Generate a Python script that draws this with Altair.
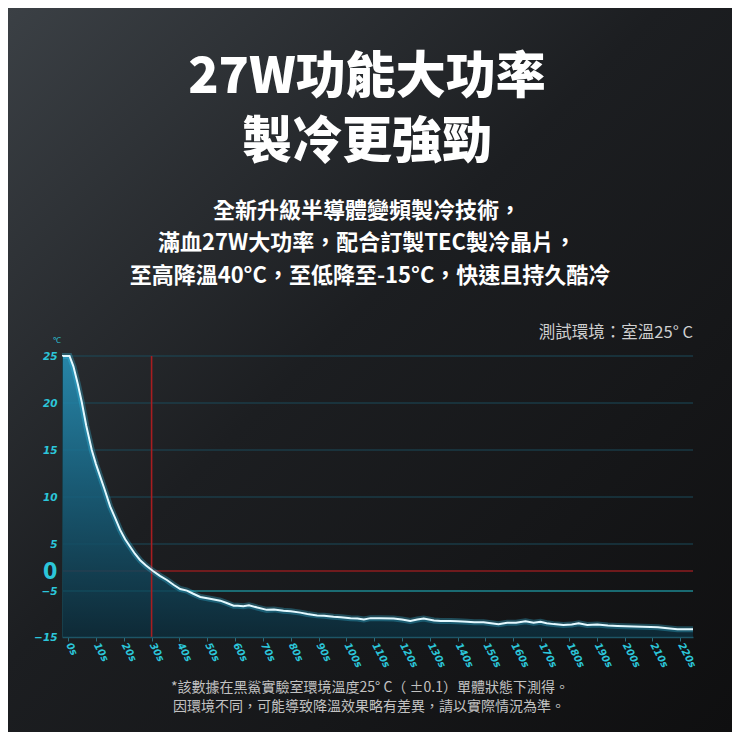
import altair as alt
import pandas as pd

# curve (seconds, °C)
tiempo = [-2.2, 0.5, 1.9, 3.5, 4.9, 6.5, 8.5, 10, 11.5, 13, 15.1, 17, 18.7, 20.5, 22.3, 24,
          25.9, 28, 30.5, 33, 35.5, 38, 40.3, 42.7, 45, 47.5, 51, 54.7, 57, 59.5, 61, 63,
          65, 68, 71.4, 74, 77.4, 80, 83.5, 86, 89.5, 92, 95.4, 98, 101.5, 104, 106.3,
          108.7, 112, 117, 120, 123, 125.5, 127.8, 131.5, 134, 137.4, 140, 143.4, 146,
          149.3, 152, 154.7, 157.8, 161, 164.4, 167.3, 169.8, 172, 174.5, 178, 181, 183.5,
          186.6, 190.2, 194, 197.4, 203.3, 209.4, 212, 215.4, 219, 224.6]
temperatura = [25, 25, 23.9, 22.0, 20.1, 17.6, 15.0, 13.5, 12.2, 10.9, 9.0, 7.7, 6.5, 5.5,
               4.5, 3.2, 2.0, 1.0, 0, -1.2, -2.25, -3.5, -4.5, -4.9, -5.6, -6.3, -6.7, -7.1,
               -7.6, -8.2, -8.2, -8.3, -8.1, -8.6, -9.1, -9.0, -9.3, -9.4, -9.7, -10.0,
               -10.3, -10.4, -10.6, -10.7, -10.9, -11.0, -11.2, -10.9, -10.9, -11.0, -11.2,
               -11.5, -11.2, -11.0, -11.4, -11.5, -11.5, -11.6, -11.7, -11.8, -11.8, -12.0,
               -12.2, -11.9, -11.9, -11.6, -11.9, -11.7, -12.0, -12.2, -12.4, -12.3, -12.0,
               -12.4, -12.3, -12.5, -12.6, -12.7, -12.8, -12.9, -13.1, -13.3, -13.3]

ticks_x = list(range(0, 221, 10))
ticks_y = [25, 20, 15, 10, 5, 0, -5, -15]
grade_escura = [25, 20, 15, 10, 5]
linha_zero = [0]
linha_menos5 = [-5]
marca_tempo = [30]

titulo = ["27W功能大功率", "製冷更強勁"]
subtitulo = ["全新升級半導體變頻製冷技術，",
             "滿血27W大功率，配合訂製TEC製冷晶片，",
             "至高降溫40°C，至低降至-15°C，快速且持久酷冷"]
ambiente = "測試環境：室溫25°  C"
rodape = ["*該數據在黑鯊實驗室環境溫度25°  C（ ±0.1）單體狀態下測得。",
          "因環境不同，可能導致降溫效果略有差異，請以實際情況為準。"]

CIANO = "#2cc6da"
FONTE = "Noto Sans CJK TC"
W, H = 631, 281

dados = pd.DataFrame({"t": tiempo, "temp": temperatura})

escala_x = alt.Scale(domain=[-2.2, 224.6], nice=False, zero=False)
escala_y = alt.Scale(domain=[-15, -5, 0, 5, 25], range=[281, 235, 215, 188, 0])

eixo_x = alt.Axis(values=ticks_x, labelExpr="datum.value + 's'", labelAngle=62,
                  labelColor=CIANO, labelFontSize=10, labelFontStyle="italic",
                  labelFontWeight="bold", labelFont="DejaVu Sans",
                  tickColor="#2b6f7f", tickSize=4, domainColor="#1d5566",
                  domainWidth=1.5, grid=False, title=None, labelPadding=2, zindex=1)
eixo_y = alt.Axis(values=ticks_y, labelColor=CIANO,
                  labelFontSize={"condition": {"test": "datum.value == 0", "value": 23},
                                 "value": 10.5},
                  labelFontStyle={"condition": {"test": "datum.value == 0", "value": "normal"},
                                  "value": "italic"},
                  labelFont={"condition": {"test": "datum.value == 0",
                                           "value": "DejaVu Sans Condensed"},
                             "value": "DejaVu Sans"},
                  labelFontWeight="bold", ticks=False, labelPadding=5,
                  domainColor="#173e4a", grid=False, zindex=1,
                  title="℃", titleAngle=0, titleFontSize=8, titleColor=CIANO,
                  titleX=-6, titleY=-12, titleFontWeight="normal")

# Fundo em degradê
fundo = alt.Chart(pd.DataFrame({"a": [0]})).mark_rect(
    color=alt.Gradient(gradient="linear", x1=0, y1=0, x2=1, y2=1,
                       stops=[alt.GradientStop(color="#3b4045", offset=0),
                              alt.GradientStop(color="#1c1e21", offset=0.45),
                              alt.GradientStop(color="#0f0f10", offset=1)])
).encode(x=alt.value(-54), x2=alt.value(W + 39), y=alt.value(-348), y2=alt.value(H + 95))

# Área sob a curva (define os eixos)
area = alt.Chart(dados).mark_area(
    color=alt.Gradient(gradient="linear", x1=0, y1=0, x2=0, y2=1,
                       stops=[alt.GradientStop(color="#2795bd", offset=0),
                              alt.GradientStop(color="#186583", offset=0.45),
                              alt.GradientStop(color="#0c2c3a", offset=1)]),
    opacity=0.85
).encode(
    x=alt.X("t:Q", scale=escala_x, axis=eixo_x),
    y=alt.Y("temp:Q", scale=escala_y, axis=eixo_y),
    y2=alt.datum(-15)
)

def linhas_h(valores, cor, largura):
    return alt.Chart(pd.DataFrame({"temp": valores})).mark_rule(
        color=cor, strokeWidth=largura
    ).encode(y=alt.Y("temp:Q", scale=escala_y, axis=eixo_y))

grade = linhas_h(grade_escura, "#1b4a5a", 1.2)
menos5 = linhas_h(linha_menos5, "#1d8790", 1.6)
zero = linhas_h(linha_zero, "#8e1d1f", 1.6)
vertical = alt.Chart(pd.DataFrame({"t": marca_tempo})).mark_rule(
    color="#a81d20", strokeWidth=1.6
).encode(x=alt.X("t:Q", scale=escala_x, axis=eixo_x))

brilho = alt.Chart(dados).mark_line(color="#37c8ee", strokeWidth=6, opacity=0.3).encode(
    x=alt.X("t:Q", scale=escala_x, axis=eixo_x), y=alt.Y("temp:Q", scale=escala_y, axis=eixo_y))
curva = alt.Chart(dados).mark_line(color="#e4f9ff", strokeWidth=2).encode(
    x=alt.X("t:Q", scale=escala_x, axis=eixo_x), y=alt.Y("temp:Q", scale=escala_y, axis=eixo_y))

def texto(conteudo, x, y, tamanho, cor="#ffffff", peso="bold", alinhamento="center"):
    return alt.Chart(pd.DataFrame({"a": [0]})).mark_text(
        font=FONTE, fontSize=tamanho, fontWeight=peso, color=cor,
        align=alinhamento, baseline="middle"
    ).encode(text=alt.value(conteudo), x=alt.value(x), y=alt.value(y))

textos = [
    texto(titulo[0], 305, -278, 50, peso=900),
    texto(titulo[1], 305, -213, 50, peso=900),
    texto(subtitulo[0], 305, -145, 22),
    texto(subtitulo[1], 305, -113, 22),
    texto(subtitulo[2], 308, -80, 22),
    texto(ambiente, 631, -23, 16.5, cor="#cfcfcf", peso="normal", alinhamento="right"),
    texto(rodape[0], 308, 332, 14, cor="#c2c2c2", peso="normal"),
    texto(rodape[1], 307, 351, 14, cor="#c2c2c2", peso="normal"),
]

chart = alt.layer(fundo, grade, menos5, zero, area, vertical, brilho, curva, *textos).properties(
    width=W, height=H,
    autosize=alt.AutoSizeParams(type="none"),
    padding={"left": 54, "top": 348, "right": 39, "bottom": 95},
    background="#121212"
).configure_view(stroke=None)

chart.save("out.html", embed_options={"renderer": "svg", "actions": False})
